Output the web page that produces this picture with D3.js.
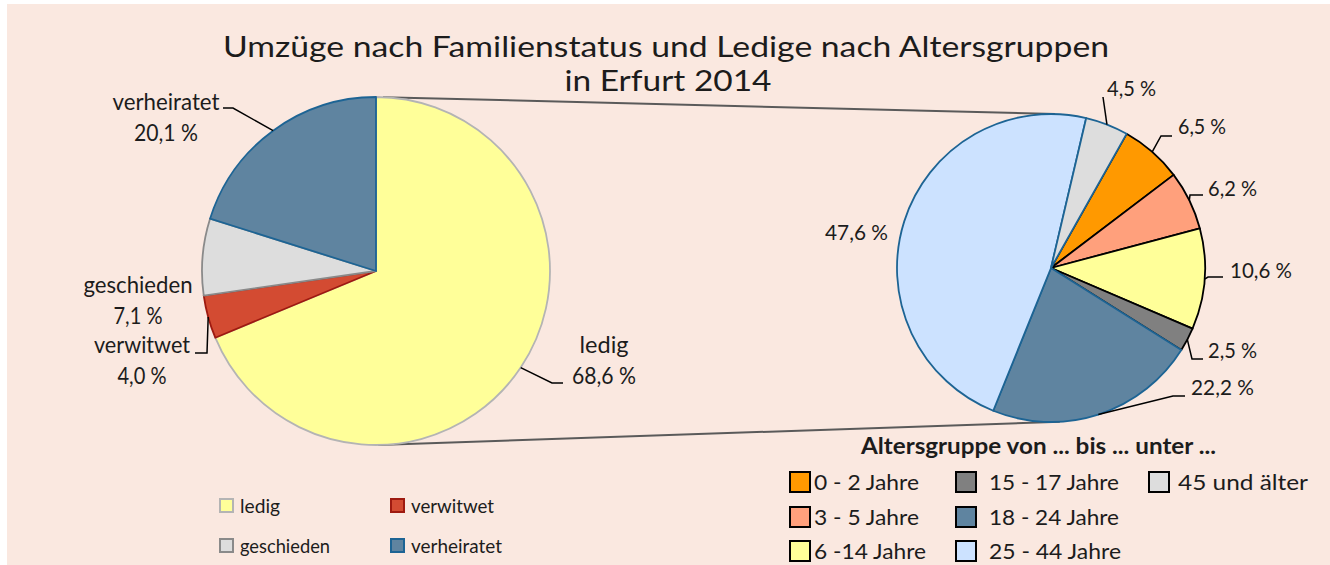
<!DOCTYPE html>
<html>
<head>
<meta charset="utf-8">
<script src="https://cdn.jsdelivr.net/npm/d3@7"></script>
<style>
  body { margin: 0; background: #ffffff; }
  text { font-family: Lato, "Open Sans", "DejaVu Sans", sans-serif; fill: #1c1c1c; }
</style>
</head>
<body>
<svg id="chart" width="1330" height="565"></svg>
<script>
// Moves in Erfurt 2014 by marital status (percent)
const statusCategories = ["ledig", "verwitwet", "geschieden", "verheiratet"];
const statusValues     = [68.6, 4.0, 7.1, 20.1];

// Single persons by age group (percent)
const ageCategories = ["0 - 2 Jahre", "3 - 5 Jahre", "6 -14 Jahre", "15 - 17 Jahre",
                       "18 - 24 Jahre", "25 - 44 Jahre", "45 und älter"];
const ageValues     = [6.5, 6.2, 10.6, 2.5, 22.2, 47.6, 4.5];

const titleLines  = ["Umzüge nach Familienstatus und Ledige nach Altersgruppen", "in Erfurt 2014"];
const legendTitle = "Altersgruppe von ... bis ... unter ...";

// ---- styles ----
const statusStyle = {
  "ledig":       { fill: "#ffff99", stroke: "#b4b4b4" },
  "verwitwet":   { fill: "#d34b32", stroke: "#9e1a10" },
  "geschieden":  { fill: "#dddddd", stroke: "#8a8a8a" },
  "verheiratet": { fill: "#5f84a0", stroke: "#1d6494" }
};
const ageStyle = {
  "0 - 2 Jahre":   { fill: "#ff9900", stroke: "#000000" },
  "3 - 5 Jahre":   { fill: "#ffa07c", stroke: "#000000" },
  "6 -14 Jahre":   { fill: "#ffff99", stroke: "#000000" },
  "15 - 17 Jahre": { fill: "#808080", stroke: "#000000" },
  "18 - 24 Jahre": { fill: "#5f84a0", stroke: "#1d6494" },
  "25 - 44 Jahre": { fill: "#cce2ff", stroke: "#1d6494" },
  "45 und älter":  { fill: "#dddddd", stroke: "#1d6494" }
};

const fmtPct = v => d3.format(".1f")(v).replace(".", ",") + " %";
const rad = deg => deg * Math.PI / 180;

const svg = d3.select("#chart");

// chart area background
svg.append("rect").attr("x", 7).attr("y", 4).attr("width", 1323).attr("height", 561)
  .attr("fill", "#fae8e0");

function txt(g, s, x, y, size, width, opts = {}) {
  const t = g.append("text").attr("x", x).attr("y", y).attr("font-size", size).text(s);
  if (opts.anchor) t.attr("text-anchor", opts.anchor);
  if (opts.weight) t.attr("font-weight", opts.weight);
  if (width) t.attr("textLength", width).attr("lengthAdjust", "spacingAndGlyphs");
  return t;
}

// ---- title ----
txt(svg, titleLines[0], 666, 57, 28, 886, { anchor: "middle" });
txt(svg, titleLines[1], 668, 91, 28, 207, { anchor: "middle" });

// ---- geometry ----
const main = { cx: 376, cy: 271, r: 174 };
const sub  = { cx: 1051, cy: 268, r: 154 };
const onCircle = (c, a, r = c.r) => [c.cx + r * Math.sin(a), c.cy - r * Math.cos(a)];

// connector lines between the two pies
const connectors = [
  [onCircle(main, rad(2.3)),   onCircle(sub, rad(1.5))],
  [onCircle(main, rad(179.4)), onCircle(sub, rad(176.7))]
];
svg.append("g").selectAll("line").data(connectors).join("line")
  .attr("x1", d => d[0][0]).attr("y1", d => d[0][1])
  .attr("x2", d => d[1][0]).attr("y2", d => d[1][1])
  .attr("stroke", "#5a5a5a").attr("stroke-width", 2);

// ---- main pie ----
const statusData = statusCategories.map((c, i) => ({ name: c, value: statusValues[i] }));
const mainArcs = d3.pie().sort(null).value(d => d.value)
  .startAngle(0).endAngle(2 * Math.PI)(statusData);
const mainArc = d3.arc().innerRadius(0).outerRadius(main.r);

svg.append("g").attr("transform", `translate(${main.cx},${main.cy})`)
  .selectAll("path").data(mainArcs).join("path")
  .attr("d", mainArc)
  .attr("fill", d => statusStyle[d.data.name].fill)
  .attr("stroke", d => statusStyle[d.data.name].stroke)
  .attr("stroke-width", 1.8)
  .attr("stroke-linejoin", "round");

// ---- sub pie ----
const ageData = ageCategories.map((c, i) => ({ name: c, value: ageValues[i] }));
const subStart = rad(29.4);
const subArcs = d3.pie().sort(null).value(d => d.value)
  .startAngle(subStart).endAngle(subStart + 2 * Math.PI)(ageData);
const subArc = d3.arc().innerRadius(0).outerRadius(sub.r);
// black-outlined slices first, blue-outlined ones on top
const subOrder = subArcs.slice().sort((a, b) =>
  (ageStyle[a.data.name].stroke === "#000000" ? 0 : 1) - (ageStyle[b.data.name].stroke === "#000000" ? 0 : 1));

svg.append("g").attr("transform", `translate(${sub.cx},${sub.cy})`)
  .selectAll("path").data(subOrder).join("path")
  .attr("d", subArc)
  .attr("fill", d => ageStyle[d.data.name].fill)
  .attr("stroke", d => ageStyle[d.data.name].stroke)
  .attr("stroke-width", 1.8)
  .attr("stroke-linejoin", "round");

// ---- data labels ----
const leaderG = svg.append("g").attr("fill", "none").attr("stroke", "#000").attr("stroke-width", 1.5);
const labelG = svg.append("g");

const mainLabelLayout = {
  "verheiratet": { x: 166, y: 110, w1: 107, w2: 64, leader: [[233, 108], [223, 108]] },
  "geschieden":  { x: 138, y: 293, w1: 109, w2: 49, leader: null },
  "verwitwet":   { x: 142, y: 353, w1: 96,  w2: 49, leader: [[207, 353], [195, 353]] },
  "ledig":       { x: 604, y: 353, w1: 49,  w2: 64, leader: [[552, 383], [563, 383]] }
};
mainArcs.forEach(d => {
  const L = mainLabelLayout[d.data.name];
  const mid = (d.startAngle + d.endAngle) / 2;
  if (L.leader) leaderG.append("path").attr("d", d3.line()([onCircle(main, mid), ...L.leader]));
  txt(labelG, d.data.name, L.x, L.y, 23, L.w1, { anchor: "middle" });
  txt(labelG, fmtPct(d.data.value), L.x, L.y + 31, 23, L.w2, { anchor: "middle" });
});

const subLabelLayout = {
  "0 - 2 Jahre":   { x: 1178, y: 134, w: 48, leader: [[1161, 136], [1172, 136]] },
  "3 - 5 Jahre":   { x: 1208, y: 196, w: 49, leader: [[1190, 195], [1203, 195]] },
  "6 -14 Jahre":   { x: 1230, y: 278, w: 62, leader: [[1208, 277], [1223, 277]] },
  "15 - 17 Jahre": { x: 1208, y: 358, w: 49, leader: [[1192, 359], [1203, 359]] },
  "18 - 24 Jahre": { x: 1191, y: 395, w: 63, leader: [[1173, 396], [1185, 396]] },
  "25 - 44 Jahre": { x: 825,  y: 240, w: 63, leader: null },
  "45 und älter":  { x: 1107, y: 96,  w: 49, leader: [[1103, 97]] }
};
subArcs.forEach(d => {
  const L = subLabelLayout[d.data.name];
  const mid = (d.startAngle + d.endAngle) / 2;
  if (L.leader) leaderG.append("path").attr("d", d3.line()([onCircle(sub, mid), ...L.leader]));
  txt(labelG, fmtPct(d.data.value), L.x, L.y, 22, L.w);
});

// ---- legend: marital status ----
const statusLegendPos = {
  "ledig":       { x: 220, y: 499, w: 40 },
  "verwitwet":   { x: 391, y: 499, w: 83 },
  "geschieden":  { x: 220, y: 539, w: 90 },
  "verheiratet": { x: 391, y: 539, w: 91 }
};
const lg1 = svg.append("g");
statusCategories.forEach(c => {
  const p = statusLegendPos[c];
  lg1.append("rect").attr("x", p.x).attr("y", p.y).attr("width", 13).attr("height", 13)
    .attr("fill", statusStyle[c].fill).attr("stroke", statusStyle[c].stroke).attr("stroke-width", 2);
  txt(lg1, c, p.x + 20, p.y + 14, 20, p.w);
});

// ---- legend: age groups ----
const lg2 = svg.append("g");
txt(lg2, legendTitle, 861, 454, 23, 355, { weight: "bold" });
const ageLegendCols = [790, 956, 1149];
const ageLegendTextX = [814, 989, 1178];
const ageLegendRows = [472, 507, 541];
const ageLegendW = { "0 - 2 Jahre": 105, "3 - 5 Jahre": 105, "6 -14 Jahre": 112, "15 - 17 Jahre": 130,
                     "18 - 24 Jahre": 130, "25 - 44 Jahre": 132, "45 und älter": 130 };
ageCategories.forEach((c, i) => {
  const col = Math.floor(i / 3), row = i % 3;
  const x = ageLegendCols[col], y = ageLegendRows[row];
  lg2.append("rect").attr("x", x).attr("y", y).attr("width", 20).attr("height", 20)
    .attr("fill", ageStyle[c].fill).attr("stroke", "#000").attr("stroke-width", 2);
  txt(lg2, c, ageLegendTextX[col], y + 18, 22, ageLegendW[c]);
});
</script>
</body>
</html>
